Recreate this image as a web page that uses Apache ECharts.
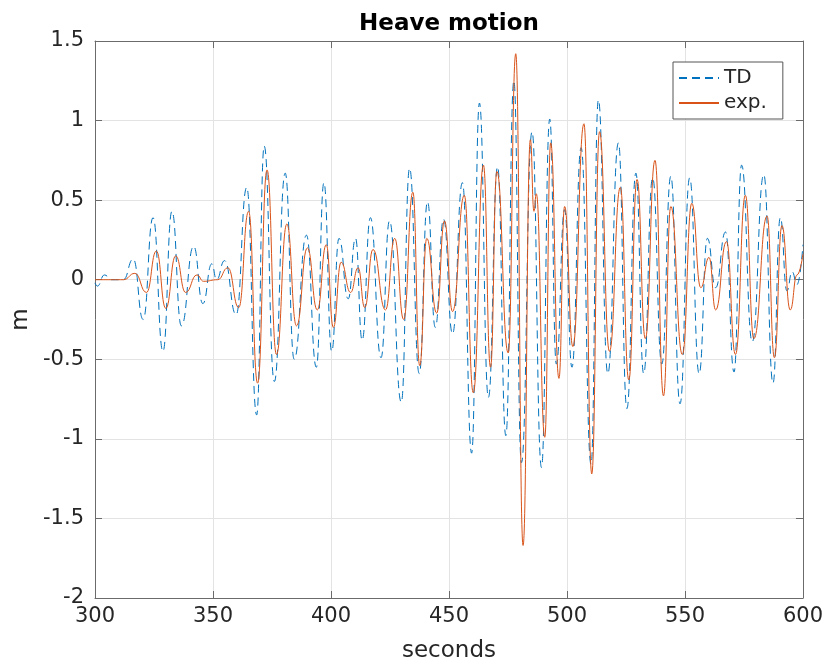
<!DOCTYPE html>
<html>
<head>
<meta charset="utf-8">
<title>Heave motion</title>
<script src="https://cdn.jsdelivr.net/npm/echarts@6/dist/echarts.min.js"></script>
<style>
  html, body { margin: 0; padding: 0; background: #fff; }
  #chart { width: 826px; height: 668px; }
</style>
</head>
<body>
<div id="chart"></div>
<script>
// peaks / troughs (seconds, metres)
const tdTime = [300, 301, 304, 307, 312, 316.2, 320.4, 324.6, 328.8, 332.6, 336.6, 341.8, 345.7, 349.5, 351.5, 354.9,
  359.8, 364.3, 368.5, 371.7, 376, 380.6, 384.4, 389.6, 393.8, 397, 400.3, 403.4, 407.3, 410.4, 413.2, 416.7,
  421.2, 424.8, 429.8, 433.3, 437.4, 440.9, 444.2, 447.7, 451.5, 455.7, 459.6, 462.9, 466.7, 470.6, 474.1,
  477.5, 480.7, 485.2, 489.2, 492.7, 495.5, 499, 502.1, 506, 510.2, 513.3, 517.3, 521.8, 525.4, 529.2, 532.5,
  536.3, 540.2, 544, 547.9, 552, 556, 559.5, 563, 567.2, 570.8, 574, 578.5, 583.4, 587.3, 590.4, 593.2,
  595.4, 597.5, 600];
const tdValue = [-0.02, -0.04, 0.03, 0.0, 0.0, 0.13, -0.25, 0.39, -0.45, 0.43, -0.29, 0.21, -0.15, 0.10, 0.0, 0.12,
  -0.22, 0.58, -0.85, 0.84, -0.64, 0.67, -0.50, 0.28, -0.55, 0.61, -0.45, 0.26, -0.12, 0.26, -0.38, 0.39,
  -0.49, 0.37, -0.77, 0.70, -0.59, 0.49, -0.30, 0.38, -0.34, 0.61, -1.09, 1.11, -0.74, 0.71, -0.98,
  1.25, -1.15, 0.93, -1.18, 1.01, -0.53, 0.44, -0.55, 0.83, -1.16, 1.13, -0.59, 0.86, -0.81, 0.67, -0.59,
  0.64, -0.53, 0.65, -0.78, 0.64, -0.59, 0.26, -0.05, 0.30, -0.58, 0.72, -0.39, 0.66, -0.65, 0.39, -0.07,
  0.05, -0.03, 0.22];

const expTime = [300, 312, 316.9, 321.8, 326, 330, 334.2, 338.4, 343.2, 346, 352, 356.3, 360.9, 365.1, 368.9,
  372.9, 376.9, 381.3, 385.4, 390, 394.2, 398, 401, 404.3, 408.3, 411.5, 414.3, 417.8, 423.1, 427, 430.8,
  434.7, 437.6, 440.6, 444.8, 448.1, 451.5, 456.5, 460.3, 464.6, 467.6, 470.3, 475.1, 478.3, 481.4, 484.5,
  486, 487, 490.6, 493.1, 496.6, 499, 502.5, 507.2, 510.5, 513.8, 518, 522.6, 526.2, 529.7, 533.2, 537.3,
  540.9, 544, 548.9, 552.9, 556.7, 560.2, 563, 567.6, 571.4, 575.6, 579.2, 584.8, 587.9, 591.1, 594.6,
  597.5, 600];
const expValue = [0.0, 0.0, 0.04, -0.08, 0.18, -0.18, 0.15, -0.08, 0.03, -0.01, 0.0, 0.075, -0.175, 0.43, -0.65,
  0.69, -0.47, 0.35, -0.29, 0.20, -0.19, 0.22, -0.30, 0.11, -0.08, 0.075, -0.175, 0.19, -0.19, 0.26, -0.25,
  0.55, -0.54, 0.26, -0.21, 0.37, -0.20, 0.53, -0.71, 0.72, -0.55, 0.68, -0.46, 1.42, -1.67, 0.88,
  0.43, 0.54, -0.99, 0.86, -0.62, 0.46, -0.42, 0.98, -1.22, 0.93, -0.45, 0.58, -0.63, 0.63, -0.37, 0.75,
  -0.73, 0.46, -0.47, 0.48, -0.05, 0.14, -0.19, 0.24, -0.47, 0.53, -0.37, 0.40, -0.49, 0.34, -0.19,
  0.03, 0.16];

const FONT = 'DejaVu Sans';
const TXT = '#262626';
const BOX = '#6b6b6b';

function pairs(xs, ys) {
  return xs.map((x, i) => [x, ys[i]]);
}

const chart = echarts.init(document.getElementById('chart'), null, { renderer: 'canvas' });

const baseAxis = {
  type: 'value',
  axisLine: { show: true, onZero: false, lineStyle: { color: BOX, width: 1 } },
  axisTick: { show: true, inside: true, length: 7, lineStyle: { color: BOX } },
  axisLabel: { color: TXT, fontFamily: FONT, fontSize: 21 },
  splitLine: { show: false },
};

chart.setOption({
  animation: false,
  backgroundColor: '#fff',
  grid: { left: 95, right: 21, top: 41, bottom: 66, containLabel: false },
  legend: {
    orient: 'vertical',
    left: 673,
    top: 62,
    padding: [6, 16, 6, 5],
    itemGap: 5,
    itemWidth: 40,
    itemHeight: 14,
    backgroundColor: '#fff',
    borderColor: '#555',
    borderWidth: 1,
    borderRadius: 0,
    itemStyle: { opacity: 0 },
    textStyle: { color: TXT, fontFamily: FONT, fontSize: 20, lineHeight: 20 },
    data: ['TD', 'exp.'],
  },
  xAxis: [
    Object.assign({}, baseAxis, {
      min: 300, max: 600, interval: 50,
      position: 'bottom',
      axisLabel: { color: TXT, fontFamily: FONT, fontSize: 21, margin: 8 },
      splitLine: { show: true, lineStyle: { color: '#e3e3e3', width: 1 } },
      name: 'seconds',
      nameLocation: 'middle',
      nameGap: 42,
      nameTextStyle: { color: TXT, fontFamily: FONT, fontSize: 23 },
    }),
    Object.assign({}, baseAxis, {
      min: 300, max: 600, interval: 50,
      position: 'top',
      axisLabel: { show: false },
      name: 'Heave motion',
      nameLocation: 'middle',
      nameGap: 5,
      nameTextStyle: { color: '#000', fontFamily: FONT, fontSize: 23, fontWeight: 'bold' },
    }),
  ],
  yAxis: [
    Object.assign({}, baseAxis, {
      min: -2, max: 1.5, interval: 0.5,
      position: 'left',
      axisLabel: { color: TXT, fontFamily: FONT, fontSize: 21, margin: 11 },
      splitLine: { show: true, lineStyle: { color: '#e3e3e3', width: 1 } },
      name: 'm',
      nameLocation: 'middle',
      nameGap: 62,
      nameTextStyle: { color: TXT, fontFamily: FONT, fontSize: 23 },
    }),
    Object.assign({}, baseAxis, {
      min: -2, max: 1.5, interval: 0.5,
      position: 'right',
      axisLabel: { show: false },
    }),
  ],
  series: [
    {
      name: 'TD',
      type: 'line',
      data: pairs(tdTime, tdValue),
      symbol: 'none',
      smooth: 0.5,
      smoothMonotone: 'x',
      lineStyle: { color: '#0072BD', width: 1, type: [8, 5] },
      itemStyle: { color: '#0072BD' },
      z: 2,
    },
    {
      name: 'exp.',
      type: 'line',
      data: pairs(expTime, expValue),
      symbol: 'none',
      smooth: 0.5,
      smoothMonotone: 'x',
      lineStyle: { color: '#D95319', width: 1 },
      itemStyle: { color: '#D95319' },
      z: 3,
    },
  ],
});
</script>
</body>
</html>
